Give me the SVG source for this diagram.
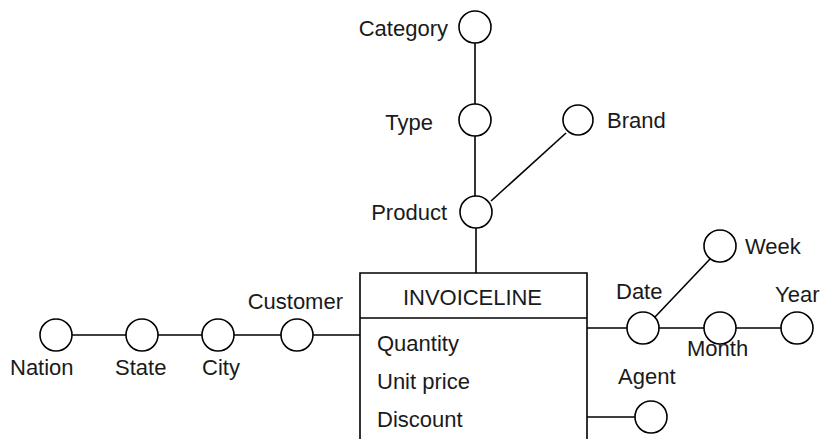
<svg xmlns="http://www.w3.org/2000/svg" width="821" height="439" viewBox="0 0 821 439">
  <style>
    .ln { stroke: #000; stroke-width: 1.6; fill: none; }
    .attr { fill: #fff; stroke: #000; stroke-width: 1.6; }
    .box { fill: #fff; stroke: #000; stroke-width: 1.6; }
    text { font-family: "Liberation Sans", Arial, sans-serif; font-size: 22px; fill: #1a1a1a; }
  </style>
  <rect width="821" height="439" fill="#fff"/>

  <!-- connectors -->
  <g id="connectors">
    <line class="ln" x1="475" y1="43" x2="475" y2="104"/>
    <line class="ln" x1="475" y1="136" x2="475" y2="196"/>
    <line class="ln" x1="476" y1="228" x2="476" y2="273"/>
    <line class="ln" x1="491" y1="201" x2="566" y2="133"/>
    <line class="ln" x1="72" y1="335" x2="126" y2="335"/>
    <line class="ln" x1="158" y1="335" x2="202" y2="335"/>
    <line class="ln" x1="234" y1="335" x2="281" y2="335"/>
    <line class="ln" x1="313" y1="335" x2="360" y2="335"/>
    <line class="ln" x1="587" y1="328" x2="627" y2="328"/>
    <line class="ln" x1="659" y1="328" x2="704" y2="328"/>
    <line class="ln" x1="736" y1="328" x2="781" y2="328"/>
    <line class="ln" x1="655" y1="317" x2="711" y2="258"/>
    <line class="ln" x1="587" y1="417" x2="635" y2="417"/>
  </g>

  <!-- fact box -->
  <g id="invoiceline">
    <path class="box" d="M360,445 V273 H587 V445"/>
    <line class="ln" x1="360" y1="318" x2="587" y2="318"/>
    <text x="403" y="305" textLength="139">INVOICELINE</text>
    <text x="377" y="351">Quantity</text>
    <text x="377" y="389">Unit price</text>
    <text x="377" y="427">Discount</text>
  </g>

  <g id="category">
    <circle class="attr" cx="475" cy="27" r="16"/>
    <text x="448" y="36" text-anchor="end">Category</text>
  </g>
  <g id="type">
    <circle class="attr" cx="475" cy="120" r="16"/>
    <text x="433" y="130" text-anchor="end">Type</text>
  </g>
  <g id="product">
    <circle class="attr" cx="476" cy="212" r="16"/>
    <text x="447" y="220" text-anchor="end">Product</text>
  </g>
  <g id="brand">
    <circle class="attr" cx="578" cy="120" r="15"/>
    <text x="607" y="128">Brand</text>
  </g>

  <g id="nation">
    <circle class="attr" cx="56" cy="335" r="16"/>
    <text x="10" y="375">Nation</text>
  </g>
  <g id="state">
    <circle class="attr" cx="142" cy="335" r="16"/>
    <text x="115" y="375">State</text>
  </g>
  <g id="city">
    <circle class="attr" cx="218" cy="335" r="16"/>
    <text x="202" y="375">City</text>
  </g>
  <g id="customer">
    <circle class="attr" cx="297" cy="335" r="16"/>
    <text x="343" y="309" text-anchor="end">Customer</text>
  </g>

  <g id="date">
    <circle class="attr" cx="643" cy="328" r="16"/>
    <text x="616" y="299">Date</text>
  </g>
  <g id="week">
    <circle class="attr" cx="720" cy="246" r="16"/>
    <text x="745" y="254">Week</text>
  </g>
  <g id="month">
    <circle class="attr" cx="720" cy="328" r="16"/>
    <text x="687" y="356">Month</text>
  </g>
  <g id="year">
    <circle class="attr" cx="797" cy="328" r="16"/>
    <text x="775" y="302">Year</text>
  </g>
  <g id="agent">
    <circle class="attr" cx="651" cy="417" r="16"/>
    <text x="618" y="384">Agent</text>
  </g>
</svg>
